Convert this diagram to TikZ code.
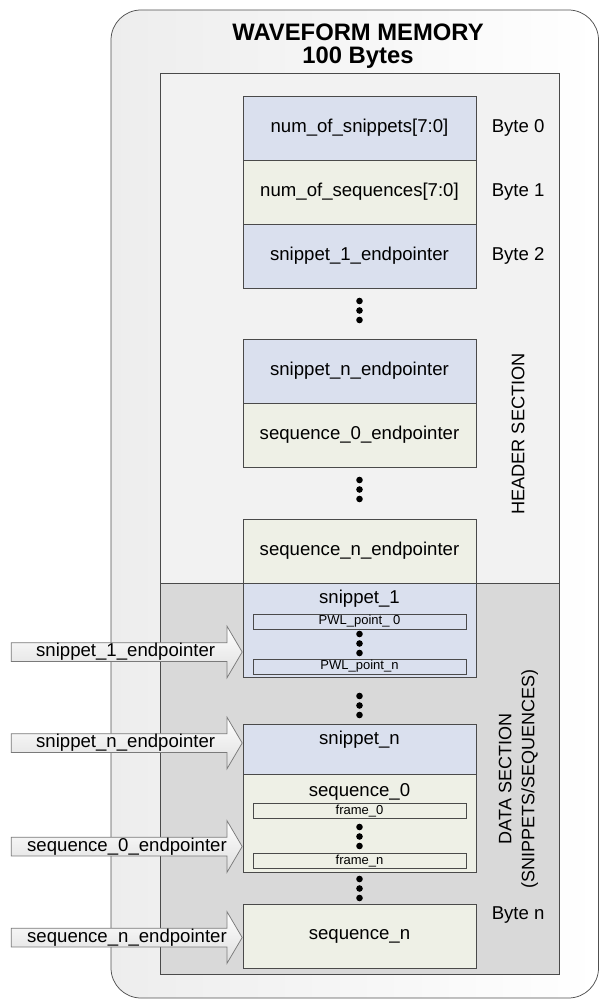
\documentclass[tikz,border=0pt]{standalone}
\usepackage{fontspec}
\setmainfont{Liberation Sans}
\usepackage{tikz}
\usetikzlibrary{shapes.arrows, positioning}
\RequirePackage{xcolor}
\definecolor{snipblue}{HTML}{DAE0EE}
\definecolor{seqgreen}{HTML}{EEF0E6}
\definecolor{hdrgray}{HTML}{F2F2F2}
\definecolor{datagray}{HTML}{D9D9D9}
\definecolor{cellline}{HTML}{4A4A4A}
\definecolor{outerline}{HTML}{505050}
\definecolor{ptrline}{HTML}{7A7A7A}

\begin{document}
\begin{tikzpicture}[x=1pt, y=-1pt, line width=0.75pt,
        memcell/.style={draw=cellline, minimum width=233pt, minimum height=64pt, inner sep=0pt, font=\fontsize{18.6}{22}\selectfont},
        snipcell/.style={memcell, fill=snipblue},
        seqcell/.style={memcell, fill=seqgreen},
        subcell/.style={draw=cellline, minimum width=213pt, minimum height=15pt, inner sep=0pt, font=\fontsize{13}{15}\selectfont},
        bytelabel/.style={inner sep=0pt, font=\fontsize{18.6}{22}\selectfont},
        ptr/.style={single arrow, draw=ptrline, top color=white, bottom color=black!13, anchor=tip,
            minimum height=231pt, minimum width=51pt, single arrow head extend=16.5pt, single arrow tip angle=119,
            text height=12.5pt, text depth=4pt, inner ysep=0.75pt, inner xsep=0pt},
        ptrlabel/.style={inner sep=0pt, anchor=west, font=\fontsize{18.6}{22}\selectfont}]
        \useasboundingbox (0,0) rectangle (599,1000);

        \draw[outerline, rounded corners=30pt, left color=black!7, right color=white] (111,10) rectangle (598.5,998);
        \draw[cellline, fill=hdrgray] (160,73) rectangle (559,583);
        \draw[cellline, fill=datagray] (160,583) rectangle (559,974);

        \node at (358,32) (title) {\fontsize{23.8}{27}\selectfont\bfseries WAVEFORM MEMORY};
        \node at (358,58) (mem-size) {\fontsize{23.8}{27}\selectfont\bfseries 100 Bytes};

        % header section
        \node[snipcell] at (359.5,128) (num-snippets) {num\_of\_snippets[7:0]};
        \node[seqcell] at (359.5,192) (num-sequences) {num\_of\_sequences[7:0]};
        \node[snipcell] at (359.5,256) (snippet-1-ep) {snippet\_1\_endpointer};
        \node[snipcell] at (359.5,371) (snippet-n-ep) {snippet\_n\_endpointer};
        \node[seqcell] at (359.5,435) (sequence-0-ep) {sequence\_0\_endpointer};
        \node[seqcell] at (359.5,551) (sequence-n-ep) {sequence\_n\_endpointer};

        \node[bytelabel, right=15pt of num-snippets] (byte-0) {Byte 0};
        \node[bytelabel, right=15pt of num-sequences] (byte-1) {Byte 1};
        \node[bytelabel, right=15pt of snippet-1-ep] (byte-2) {Byte 2};
        \node[rotate=90, font=\fontsize{18.2}{22}\selectfont] at (518,434) (header-label) {HEADER SECTION};

        % data section
        \node[snipcell, minimum height=94pt] at (359.5,630) (snippet-1) {};
        \node[below=7pt of snippet-1.north, inner sep=0pt, font=\fontsize{18.6}{22}\selectfont] (snippet-1-name) {snippet\_1};
        \node[subcell, fill=snipblue] at (359.5,621.5) (pwl-point-0) {PWL\_point\_ 0};
        \node[subcell, fill=snipblue] at (359.5,666.5) (pwl-point-n) {PWL\_point\_n};

        \node[snipcell, minimum height=50pt] at (359.5,749) (snippet-n) {};
        \node[below=7pt of snippet-n.north, inner sep=0pt, font=\fontsize{18.6}{22}\selectfont] (snippet-n-name) {snippet\_n};

        \node[seqcell, minimum height=98pt] at (359.5,823) (sequence-0) {};
        \node[below=9.5pt of sequence-0.north, inner sep=0pt, font=\fontsize{18.6}{22}\selectfont] (sequence-0-name) {sequence\_0};
        \node[subcell, fill=seqgreen] at (359.5,811) (frame-0) {frame\_0};
        \node[subcell, fill=seqgreen] at (359.5,861) (frame-n) {frame\_n};

        \node[seqcell] at (359.5,936) (sequence-n) {sequence\_n};
        \node[bytelabel, below right=3pt and 15pt of sequence-n.north east, anchor=north west] (byte-n) {Byte n};

        \node[rotate=90, align=center, font=\fontsize{18}{23}\selectfont] at (518.5,779) (data-label) {DATA SECTION\\(SNIPPETS/SEQUENCES)};

        % continuation dots
        \foreach \dy in {301,480,634,696,827,879}
            \foreach \k in {0,1,2}
                \fill (359.5,\dy+9.5*\k) circle (3.3pt);

        % end pointers
        \node[ptr] at (snippet-1.west |- 0,652) (ptr-snippet-1) {};
        \node[ptr] at (snippet-n.west |- 0,743) (ptr-snippet-n) {};
        \node[ptr] at (sequence-0.west |- 0,846.5) (ptr-sequence-0) {};
        \node[ptr] at (sequence-n.west |- 0,937.5) (ptr-sequence-n) {};
        \node[ptrlabel, right=25pt of ptr-snippet-1.tail] (ptr-snippet-1-text) {snippet\_1\_endpointer};
        \node[ptrlabel, right=25pt of ptr-snippet-n.tail] (ptr-snippet-n-text) {snippet\_n\_endpointer};
        \node[ptrlabel, right=16pt of ptr-sequence-0.tail] (ptr-sequence-0-text) {sequence\_0\_endpointer};
        \node[ptrlabel, right=16pt of ptr-sequence-n.tail] (ptr-sequence-n-text) {sequence\_n\_endpointer};
    \end{tikzpicture}
\end{document}
